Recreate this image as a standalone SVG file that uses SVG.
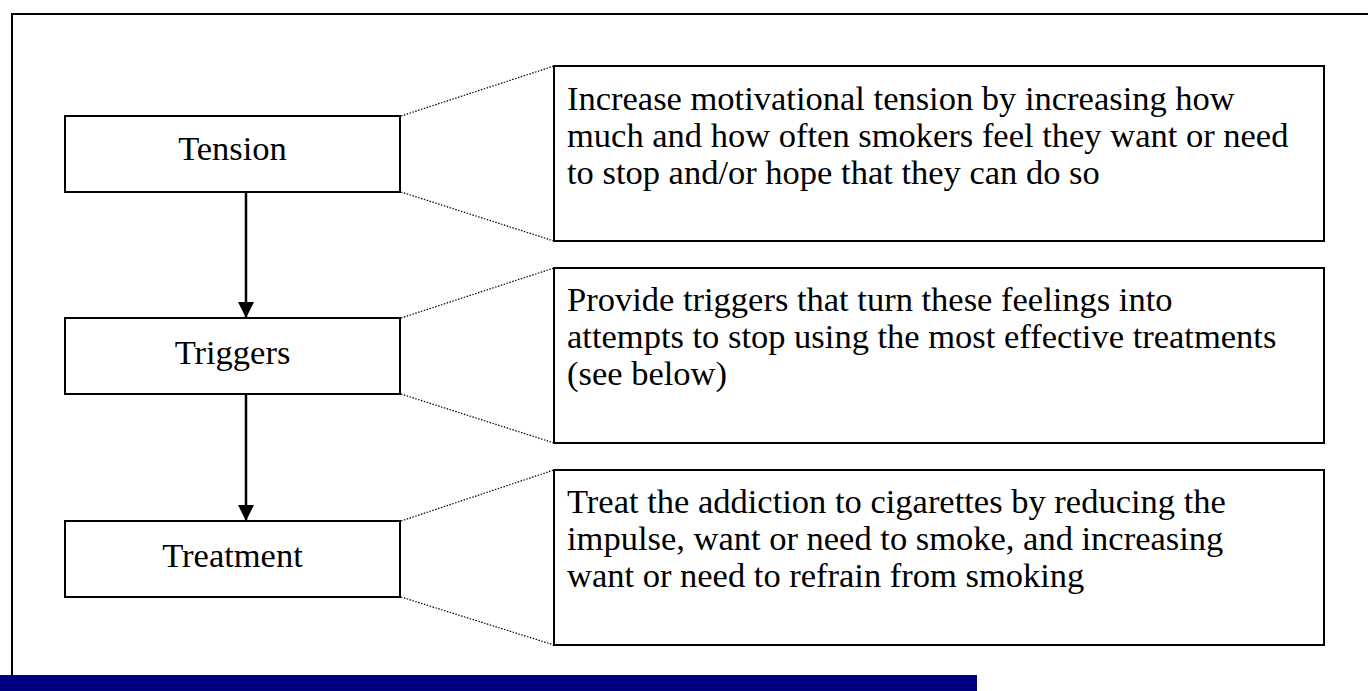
<svg xmlns="http://www.w3.org/2000/svg" width="1368" height="691" viewBox="0 0 1368 691">
<style>
.box{fill:#fff;stroke:#000;stroke-width:2}
.lbl{font-family:"Liberation Serif","Times New Roman",serif;font-size:34.5px;fill:#000}
.dot{fill:none;stroke:#000;stroke-width:1.2;stroke-dasharray:1.5 1.5}
.arr{fill:none;stroke:#000;stroke-width:2.5}
</style>
<defs>
<marker id="ah" markerUnits="userSpaceOnUse" markerWidth="18" markerHeight="16" refX="16" refY="8" orient="auto">
<path d="M0,0 L16,8 L0,16 Z" fill="#000"/>
</marker>
</defs>
<rect x="0" y="0" width="1368" height="691" fill="#fff"/>
<path d="M12,675 L12,14 L1368,14" fill="none" stroke="#000" stroke-width="2"/>
<rect x="0" y="675" width="977" height="16" fill="#000080"/>
<g id="connectors">
<line class="dot" x1="401" y1="116" x2="554" y2="66"/>
<line class="dot" x1="401" y1="192" x2="554" y2="241"/>
<line class="dot" x1="401" y1="318" x2="554" y2="268"/>
<line class="dot" x1="401" y1="394" x2="554" y2="443"/>
<line class="dot" x1="401" y1="521" x2="554" y2="470"/>
<line class="dot" x1="401" y1="597" x2="554" y2="645"/>
<line class="arr" x1="246" y1="193" x2="246" y2="318" marker-end="url(#ah)"/>
<line class="arr" x1="246" y1="395" x2="246" y2="521" marker-end="url(#ah)"/>
</g>
<g id="tension">
<rect class="box" x="65" y="116" width="335" height="76"/>
<text class="lbl" x="232.5" y="160" text-anchor="middle">Tension</text>
</g>
<g id="triggers">
<rect class="box" x="65" y="318" width="335" height="76"/>
<text class="lbl" x="232.5" y="364" text-anchor="middle">Triggers</text>
</g>
<g id="treatment">
<rect class="box" x="65" y="521" width="335" height="76"/>
<text class="lbl" x="232.5" y="567" text-anchor="middle">Treatment</text>
</g>
<g id="tension-desc">
<rect class="box" x="554" y="66" width="770" height="175"/>
<text class="lbl" x="567" y="110">Increase motivational tension by increasing how</text>
<text class="lbl" x="567" y="147">much and how often smokers feel they want or need</text>
<text class="lbl" x="567" y="184">to stop and/or hope that they can do so</text>
</g>
<g id="triggers-desc">
<rect class="box" x="554" y="268" width="770" height="175"/>
<text class="lbl" x="567" y="311">Provide triggers that turn these feelings into</text>
<text class="lbl" x="567" y="348">attempts to stop using the most effective treatments</text>
<text class="lbl" x="567" y="385">(see below)</text>
</g>
<g id="treatment-desc">
<rect class="box" x="554" y="470" width="770" height="175"/>
<text class="lbl" x="567" y="513">Treat the addiction to cigarettes by reducing the</text>
<text class="lbl" x="567" y="550">impulse, want or need to smoke, and increasing</text>
<text class="lbl" x="567" y="587">want or need to refrain from smoking</text>
</g>
</svg>
